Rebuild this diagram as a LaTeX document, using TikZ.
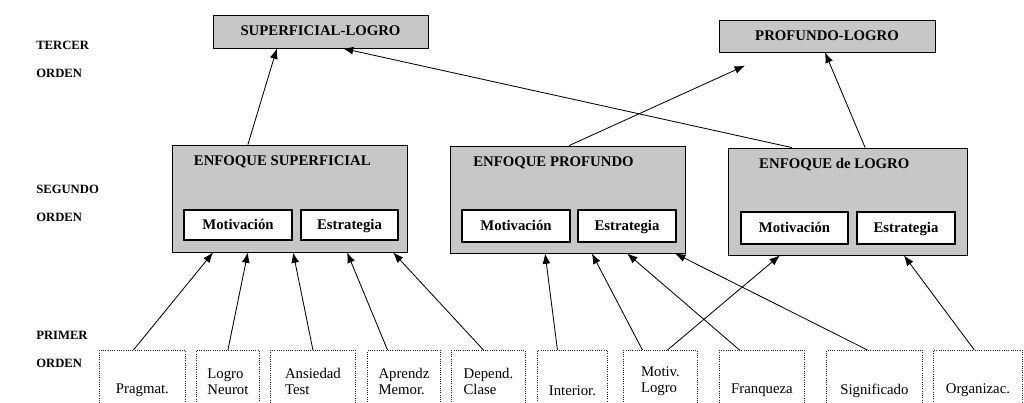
\documentclass[tikz,border=0pt]{standalone}
\usepackage{fontspec}
\setmainfont{Liberation Serif}
\usetikzlibrary{arrows.meta,fit}

\begin{document}
\begin{tikzpicture}[x=0.025cm, y=-0.025cm,
	nivel/.style={font=\bfseries\fontsize{9}{20}\selectfont, align=left, anchor=west, inner sep=0pt},
	grupo/.style={draw, line width=0.6pt, fill=black!22, inner sep=0pt},
	cima/.style={grupo, text height=7pt, text depth=1pt, font=\bfseries\fontsize{10.5}{12}\selectfont},
	interno/.style={draw, line width=1.2pt, fill=white, inner sep=0pt, text height=7pt, text depth=1pt, font=\bfseries\fontsize{10.5}{12}\selectfont},
	titulo/.style={font=\bfseries\fontsize{10.5}{12}\selectfont, anchor=north},
	factor/.style={draw=black!85, densely dotted, line width=0.6pt, inner sep=0pt, anchor=north west, align=left, font=\fontsize{10.5}{11.5}\selectfont},
	flecha/.style={-{Latex[length=2.6mm, width=2mm]}, line width=0.6pt}]
		\useasboundingbox (0,0) rectangle (1024,402);
		\clip (0,0) rectangle (1024,402);

		% niveles
		\node[nivel] (tercer) at (36,59) {TERCER\\ORDEN};
		\node[nivel] (segundo) at (36,203) {SEGUNDO\\ORDEN};
		\node[nivel] (primer) at (36,349) {PRIMER\\ORDEN};

		% tercer orden
		\node[cima, minimum width=5.375cm, minimum height=0.825cm] (suplog) at (320.5,31.5) {SUPERFICIAL-LOGRO};
		\node[cima, minimum width=5.4cm, minimum height=0.8cm] (prolog) at (827,36) {PROFUNDO-LOGRO};

		% segundo orden
		\node[grupo, fit={(172,145) (407,252)},
			label={[titulo, xshift=-0.18cm, yshift=-0.15cm]north:ENFOQUE SUPERFICIAL}] (sup) {};
		\node[grupo, fit={(450,146) (685,253)},
			label={[titulo, xshift=-0.35cm, yshift=-0.15cm]north:ENFOQUE PROFUNDO}] (pro) {};
		\node[grupo, fit={(728,148) (967,255)},
			label={[titulo, xshift=-0.33cm, yshift=-0.15cm]north:ENFOQUE de LOGRO}] (log) {};

		\node[interno, minimum width=2.7cm, minimum height=0.75cm] (supmot) at (238,225) {Motivación};
		\node[interno, minimum width=2.425cm, minimum height=0.75cm] (supest) at (349.5,225) {Estrategia};
		\node[interno, minimum width=2.7cm, minimum height=0.8cm] (promot) at (516,226) {Motivación};
		\node[interno, minimum width=2.45cm, minimum height=0.8cm] (proest) at (627,226) {Estrategia};
		\node[interno, minimum width=2.675cm, minimum height=0.8cm] (logmot) at (794.5,228) {Motivación};
		\node[interno, minimum width=2.45cm, minimum height=0.8cm] (logest) at (906,228) {Estrategia};

		% primer orden
		\node[factor, minimum width=2.15cm, minimum height=2cm] (prag) at (99,350) {Pragmat.};
		\node[factor, minimum width=1.575cm, minimum height=1.55cm] (logneu) at (196,350) {Logro\\Neurot};
		\node[factor, minimum width=2.125cm, minimum height=1.55cm] (ansied) at (270,350) {Ansiedad\\Test};
		\node[factor, minimum width=1.825cm, minimum height=1.55cm] (aprend) at (367,350) {Aprendz\\Memor.};
		\node[factor, minimum width=1.85cm, minimum height=1.55cm] (depend) at (451,350) {Depend.\\Clase};
		\node[factor, minimum width=1.75cm, minimum height=2cm] (interi) at (537,350) {Interior.};
		\node[factor, minimum width=1.85cm, minimum height=1.55cm] (motlog) at (623,350) {Motiv.\\Logro};
		\node[factor, minimum width=2.125cm, minimum height=2cm] (franq) at (719,350) {Franqueza};
		\node[factor, minimum width=2.4cm, minimum height=2cm] (signif) at (826,350) {Significado};
		\node[factor, minimum width=2.225cm, minimum height=2cm] (organ) at (933,350) {Organizac.};

		% flechas primer -> segundo
		\draw[flecha] ([xshift=-0.225cm]prag.north) -- ([xshift=-1.91cm]sup.south);
		\draw[flecha] (logneu.north) -- ([xshift=-1.04cm]sup.south);
		\draw[flecha] (ansied.north) -- ([xshift=0.09cm]sup.south);
		\draw[flecha] ([xshift=-0.41cm]aprend.north) -- ([xshift=1.44cm]sup.south);
		\draw[flecha] ([xshift=-0.125cm]depend.north) -- ([xshift=2.59cm]sup.south);
		\draw[flecha] ([xshift=-0.375cm]interi.north) -- ([xshift=-0.56cm]pro.south);
		\draw[flecha] ([xshift=-0.45cm]motlog.north) -- ([xshift=0.61cm]pro.south);
		\draw[flecha] ([xshift=0.175cm]motlog.north) -- ([xshift=-1.69cm]log.south);
		\draw[flecha] ([xshift=-0.56cm]franq.north) -- ([xshift=1.49cm]pro.south);
		\draw[flecha] ([xshift=-0.175cm]signif.north) -- ([xshift=2.69cm]pro.south);
		\draw[flecha] ([xshift=-0.09cm]organ.north) -- ([xshift=1.41cm]log.south);

		% flechas segundo -> tercer
		\draw[flecha] ([xshift=-1.04cm]sup.north) -- ([xshift=-1.09cm]suplog.south);
		\draw[flecha] ([xshift=-1.39cm]log.north) -- ([xshift=0.56cm]suplog.south);
		\draw[flecha] ([xshift=0.04cm]pro.north) -- ([xshift=-2.05cm, yshift=-0.33cm]prolog.south);
		\draw[flecha] ([xshift=0.44cm]log.north) -- ([xshift=-0.05cm]prolog.south);
	\end{tikzpicture}
\end{document}
